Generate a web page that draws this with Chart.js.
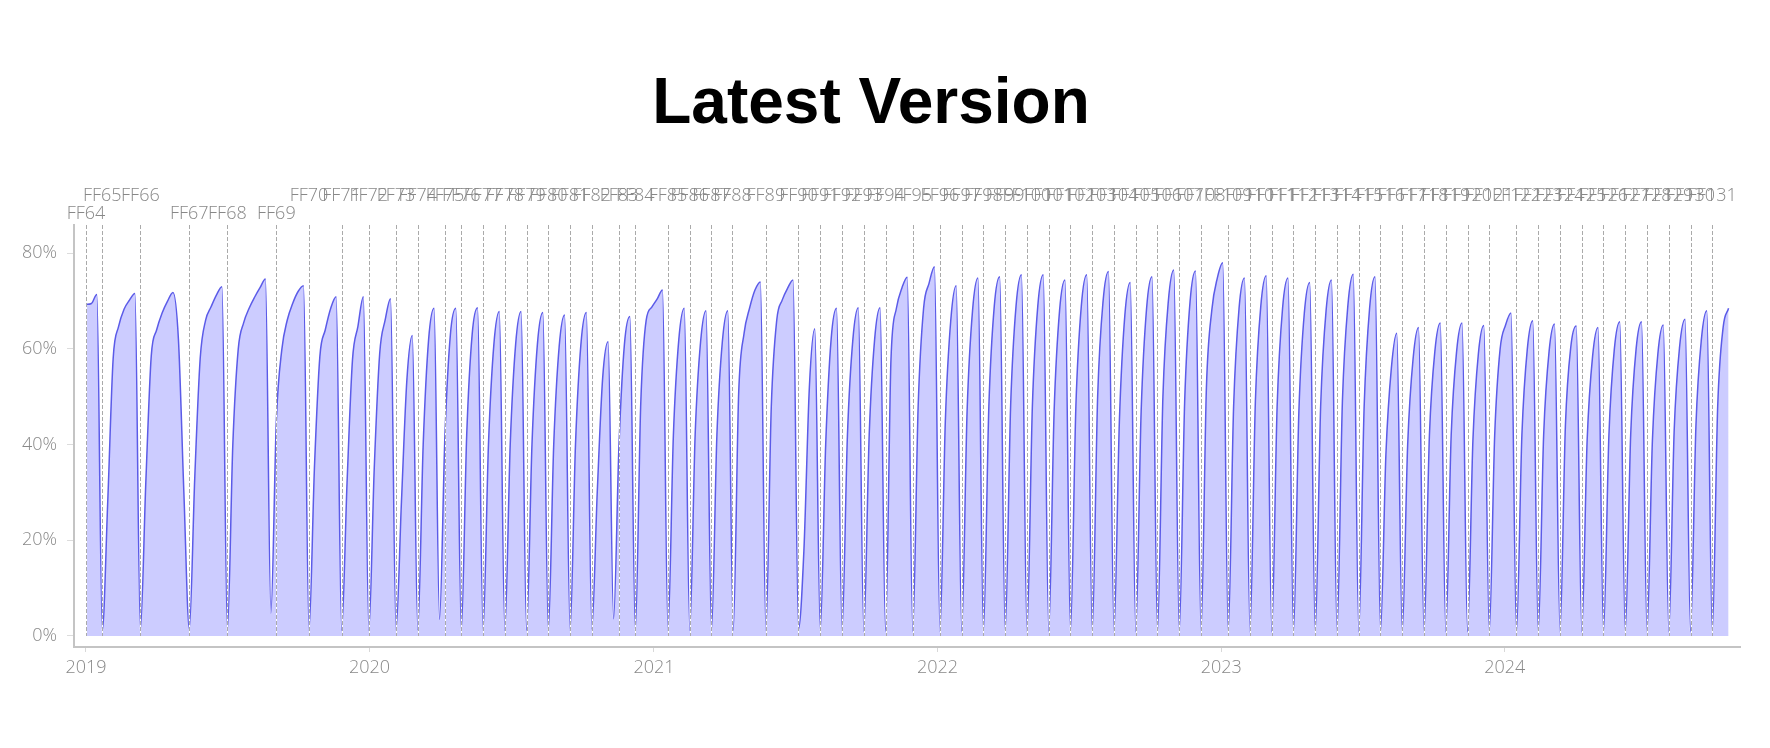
<!DOCTYPE html>
<html lang="en">
<head>
<meta charset="utf-8">
<title>Latest Version</title>
<script src="https://cdn.jsdelivr.net/npm/chart.js@4.4.1/dist/chart.umd.min.js"></script>
<style>
  html, body { margin: 0; padding: 0; background: #fff; }
  canvas { display: block; }
</style>
</head>
<body>
<canvas id="latest" width="1770" height="748"></canvas>
<script>
// weekly share of users on the newest release, one value per week starting here
const firstWeek = '2019-01-01';
const latestShare = [
  69.3, 69.5, 71.4,                              // FF64
  1.2, 28, 58, 64.7, 68.3, 70.2, 71.6,           // FF65
  1.3, 32, 58.5, 64, 67.5, 70, 71.8, 62, 30,     // FF66
  1.5, 33, 58, 66, 68.8, 71.3, 73,               // FF67
  1.2, 40, 60, 65.5, 68.5, 70.8, 72.8, 74.6,     // FF68
  4.8, 45, 59.8, 66, 69.5, 72, 73.2,             // FF69
  1.2, 35, 58.4, 64, 68.5, 70.9,                 // FF70
  1.2, 32, 57.7, 64.7, 70.9,                     // FF71
  1.2, 35, 59, 66, 70.5,                         // FF72
  1.3, 28, 53.5, 62.8,                           // FF73
  1.3, 40, 62, 68.5,                             // FF74
  3.5, 42, 63, 68.5,                             // FF75
  1.2, 42, 63, 68.6,                             // FF76
  1.2, 40, 61, 67.8,                             // FF77
  1.2, 40, 61, 67.8,                             // FF78
  1.2, 40, 61, 67.6,                             // FF79
  1.2, 40, 60.5, 67.1,                           // FF80
  1.2, 40, 61, 67.6,                             // FF81
  1.5, 30, 54, 61.5,                             // FF82
  3.6, 40, 61, 66.8,                             // FF83
  1.2, 48.6, 66, 68.7, 70.4, 72.3,               // FF84
  1.2, 42, 62, 68.5,                             // FF85
  1.2, 42, 61.5, 68,                             // FF86
  1.2, 42, 61.5, 68,                             // FF87
  1.2, 50.7, 63.3, 68.5, 72.3, 74,               // FF88
  1.2, 48, 66, 70.2, 72.7, 74.4,                 // FF89
  1.5, 18, 52, 64.2,                             // FF90
  1.2, 40, 62, 68.5,                             // FF91
  1.2, 42, 62, 68.6,                             // FF92
  1.0, 42, 62, 68.6,                             // FF93
  1.0, 57.7, 68.5, 72.7, 75,                     // FF94
  1.0, 48, 68.5, 73.7, 77.2,                     // FF95
  1.0, 45, 66, 73.2,                             // FF96
  1.0, 47, 68, 74.8,                             // FF97
  1.0, 48, 69, 75.1,                             // FF98
  1.0, 48, 69, 75.5,                             // FF99
  1.0, 48, 69, 75.5,                             // FF100
  1.0, 47, 68, 74.4,                             // FF101
  1.0, 48, 69, 75.5,                             // FF102
  1.0, 50, 70, 76.2,                             // FF103
  0.9, 45, 67, 73.9,                             // FF104
  0.9, 47, 68.5, 75.1,                           // FF105
  0.9, 50, 70, 76.5,                             // FF106
  0.9, 49, 70, 76.3,                             // FF107
  0.9, 52, 68.2, 74.8, 78,                       // FF108
  0.9, 48, 68.5, 74.8,                           // FF109
  0.9, 49, 69, 75.3,                             // FF110
  0.9, 48, 68.5, 74.8,                           // FF111
  0.9, 47, 67.5, 73.9,                           // FF112
  0.9, 48, 68, 74.4,                             // FF113
  0.9, 49, 69, 75.6,                             // FF114
  0.9, 48, 68.5, 75.1,                           // FF115
  0.9, 38, 56, 63.3,                             // FF116
  0.9, 40, 58, 64.5,                             // FF117
  0.9, 42, 59.5, 65.4,                           // FF118
  0.9, 42, 59.5, 65.4,                           // FF119
  0.9, 41, 59, 64.9,                             // FF120
  0.9, 42, 60, 65, 67.5,                         // FF121
  0.9, 42, 60, 65.9,                             // FF122
  0.9, 42, 59.5, 65.2,                           // FF123
  0.9, 44, 60.5, 64.8,                           // FF124
  0.9, 41, 58.5, 64.5,                           // FF125
  0.9, 42, 60, 65.7,                             // FF126
  0.9, 42, 60, 65.7,                             // FF127
  0.9, 41, 59, 65,                               // FF128
  0.9, 43, 60.5, 66.2,                           // FF129
  0.9, 44, 62, 68,                               // FF130
  0.9, 48, 64.5, 68.5                            // FF131
];

const versions = [
  'FF64','FF65','FF66','FF67','FF68','FF69','FF70','FF71','FF72','FF73',
  'FF74','FF75','FF76','FF77','FF78','FF79','FF80','FF81','FF82','FF83',
  'FF84','FF85','FF86','FF87','FF88','FF89','FF90','FF91','FF92','FF93',
  'FF94','FF95','FF96','FF97','FF98','FF99','FF100','FF101','FF102','FF103',
  'FF104','FF105','FF106','FF107','FF108','FF109','FF110','FF111','FF112','FF113',
  'FF114','FF115','FF116','FF117','FF118','FF119','FF120','FF121','FF122','FF123',
  'FF124','FF125','FF126','FF127','FF128','FF129','FF130','FF131'
];
const releaseDates = [
  '2019-01-01','2019-01-22','2019-03-12','2019-05-14','2019-07-02','2019-09-03','2019-10-15','2019-11-26','2019-12-31','2020-02-04',
  '2020-03-03','2020-04-07','2020-04-28','2020-05-26','2020-06-23','2020-07-21','2020-08-18','2020-09-15','2020-10-13','2020-11-17',
  '2020-12-08','2021-01-19','2021-02-16','2021-03-16','2021-04-12','2021-05-25','2021-07-06','2021-08-03','2021-08-31','2021-09-28',
  '2021-10-26','2021-11-30','2022-01-04','2022-02-01','2022-03-01','2022-03-29','2022-04-26','2022-05-24','2022-06-21','2022-07-19',
  '2022-08-16','2022-09-13','2022-10-11','2022-11-08','2022-12-06','2023-01-10','2023-02-07','2023-03-07','2023-04-04','2023-05-02',
  '2023-05-30','2023-06-27','2023-07-25','2023-08-22','2023-09-19','2023-10-17','2023-11-14','2023-12-12','2024-01-16','2024-02-13',
  '2024-03-12','2024-04-09','2024-05-07','2024-06-04','2024-07-02','2024-07-30','2024-08-27','2024-09-24'
];
const lowerRow = ['FF64', 'FF67', 'FF68', 'FF69'];

const yearTicks = [2019, 2020, 2021, 2022, 2023, 2024];
const percentTicks = [0, 20, 40, 60, 80];

const DAY = 86400000;
const t0 = Date.parse(firstWeek);
const points = latestShare.map((v, i) => ({ x: t0 + i * 7 * DAY, y: v }));

const axisFont = { family: '"Open Sans", "DejaVu Sans", sans-serif', size: 18, weight: 300 };
const grey = '#888';

const releaseMarks = {
  id: 'releaseMarks',
  afterDatasetsDraw(chart) {
    const { ctx, chartArea, scales: { x, y } } = chart;
    const bottom = y.getPixelForValue(0);
    ctx.save();
    ctx.lineWidth = 1;
    releaseDates.forEach(d => {
      const px = Math.round(x.getPixelForValue(Date.parse(d))) + 0.5;
      ctx.beginPath();
      ctx.moveTo(px, chartArea.top);
      ctx.lineTo(px, bottom);
      ctx.setLineDash([]);
      ctx.strokeStyle = '#fff';
      ctx.stroke();
      ctx.setLineDash([4, 2]);
      ctx.strokeStyle = '#aaa';
      ctx.stroke();
    });
    ctx.setLineDash([]);
    ctx.font = '300 18px "Open Sans", "DejaVu Sans", sans-serif';
    ctx.fillStyle = grey;
    ctx.textAlign = 'center';
    ctx.textBaseline = 'middle';
    versions.forEach((v, i) => {
      const px = x.getPixelForValue(Date.parse(releaseDates[i]));
      const py = lowerRow.includes(v) ? chartArea.top - 11 : chartArea.top - 29;
      ctx.fillText(v, px, py);
    });
    ctx.restore();
  },
  afterDraw(chart) {
    const ctx = chart.ctx;
    ctx.save();
    ctx.font = 'bold 64px "Liberation Sans", Arial, sans-serif';
    ctx.fillStyle = '#000';
    ctx.textAlign = 'center';
    ctx.textBaseline = 'alphabetic';
    ctx.fillText('Latest Version', 871, 123);
    ctx.restore();
  }
};

new Chart(document.getElementById('latest'), {
  type: 'line',
  data: {
    datasets: [{
      label: 'Latest version share',
      data: points,
      fill: 'origin',
      backgroundColor: '#ccccff',
      borderColor: '#5b5be8',
      borderWidth: 1.5,
      pointRadius: 0,
      cubicInterpolationMode: 'monotone'
    }]
  },
  options: {
    responsive: false,
    animation: false,
    layout: { padding: { left: 0, top: 225, right: 30, bottom: 61 } },
    plugins: {
      legend: { display: false },
      tooltip: { enabled: false }
    },
    scales: {
      x: {
        type: 'linear',
        min: t0 - 15.4 * DAY,
        max: t0 + 2128.7 * DAY,
        afterBuildTicks: s => { s.ticks = yearTicks.map(yr => ({ value: Date.UTC(yr, 0, 1) })); },
        afterFit: s => { s.height = 40; },
        border: { display: true, color: '#c4c4c4', width: 2 },
        grid: { drawOnChartArea: false, drawTicks: true, tickLength: 5, color: '#d8d8d8' },
        ticks: {
          autoSkip: false, maxRotation: 0, padding: 5, color: grey, font: axisFont,
          callback: v => String(new Date(v).getUTCFullYear())
        }
      },
      y: {
        min: -2.3,
        max: 85.9,
        afterBuildTicks: s => { s.ticks = percentTicks.map(v => ({ value: v })); },
        afterFit: s => { s.width = 74; },
        border: { display: true, color: '#c4c4c4', width: 2 },
        grid: { drawOnChartArea: false, drawTicks: true, tickLength: 7, color: '#dcdcdc' },
        ticks: {
          padding: 10, color: grey, font: axisFont,
          callback: v => v + '%'
        }
      }
    }
  },
  plugins: [releaseMarks]
});
</script>
</body>
</html>
